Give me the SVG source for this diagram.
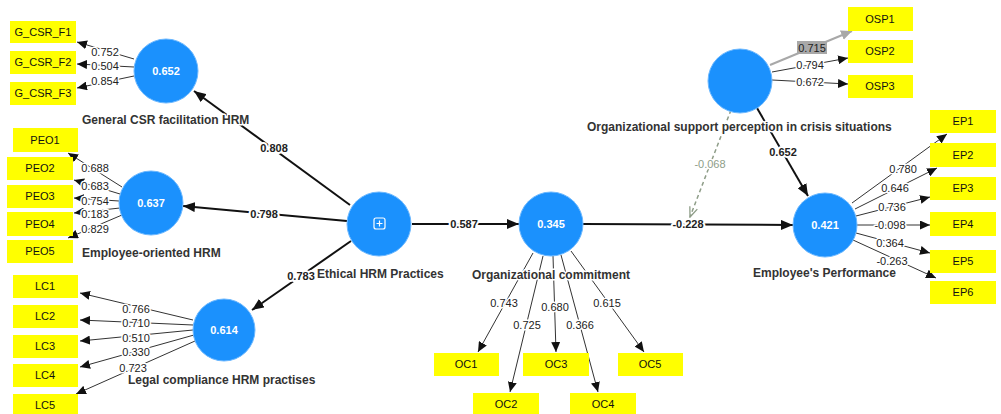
<svg xmlns="http://www.w3.org/2000/svg" width="1001" height="414" viewBox="0 0 1001 414">
<style>
.c{fill:#1b91fd;stroke:#6cb8ff;stroke-width:1}
.cv{font-family:"Liberation Sans",Arial,sans-serif;font-size:11px;font-weight:bold;fill:#fff;text-anchor:middle}
.b{fill:#ffff00}
.bt{font-family:"Liberation Sans",Arial,sans-serif;font-size:11px;fill:#111;text-anchor:middle}
.nl{font-family:"Liberation Sans",Arial,sans-serif;font-size:12px;font-weight:bold;fill:#333;stroke:#fff;stroke-width:3;paint-order:stroke;stroke-linejoin:round}
.p{stroke:#111;stroke-width:2;fill:none;marker-end:url(#ah)}
.o{stroke:#333;stroke-width:1;fill:none;marker-end:url(#as)}
.pl{font-family:"Liberation Sans",Arial,sans-serif;font-size:11px;font-weight:bold;fill:#222;text-anchor:middle;stroke:#fff;stroke-width:4;paint-order:stroke;stroke-linejoin:round}
.ol{font-family:"Liberation Sans",Arial,sans-serif;font-size:11px;fill:#222;text-anchor:middle;stroke:#fff;stroke-width:3;paint-order:stroke;stroke-linejoin:round}
</style>
<defs>
<marker id="ah" markerUnits="userSpaceOnUse" markerWidth="13" markerHeight="10" refX="12" refY="5" orient="auto"><path d="M0,0 L12,5 L0,10 z" fill="#111"/></marker>
<marker id="as" markerUnits="userSpaceOnUse" markerWidth="11" markerHeight="9" refX="10" refY="4.5" orient="auto"><path d="M0,0 L10,4.5 L0,9 z" fill="#111"/></marker>
<marker id="ag" markerUnits="userSpaceOnUse" markerWidth="12" markerHeight="10" refX="11" refY="5" orient="auto"><path d="M0,0 L11,5 L0,10 z" fill="#a8a8a8"/></marker>
<marker id="ad" markerUnits="userSpaceOnUse" markerWidth="12" markerHeight="10" refX="11" refY="5" orient="auto"><path d="M1,1 L11,5 L1,9" fill="none" stroke="#8e9d88" stroke-width="1.3"/></marker>
</defs>
<rect width="1001" height="414" fill="#fff"/>

<g id="connectors">
<line class="p" x1="350" y1="205" x2="194" y2="91"/>
<line class="p" x1="347" y1="221" x2="183" y2="206"/>
<line class="p" x1="351" y1="241" x2="252" y2="310"/>
<line class="p" x1="412" y1="224" x2="519" y2="224"/>
<line class="p" x1="583" y1="224" x2="793" y2="225"/>
<line class="p" x1="757" y1="108" x2="808" y2="196"/>
<line x1="731" y1="110" x2="690" y2="217" stroke="#8e9d88" stroke-width="1.5" stroke-dasharray="4,3" marker-end="url(#ad)"/>
<text class="pl" x="274" y="152">0.808</text>
<text class="pl" x="264" y="218">0.798</text>
<text class="pl" x="464" y="228">0.587</text>
<text class="pl" x="688" y="228">-0.228</text>
<text class="pl" x="783" y="156">0.652</text>
<text x="710" y="168" font-family="Liberation Sans,Arial,sans-serif" font-size="11" fill="#8e9d88" text-anchor="middle" stroke="#fff" stroke-width="3" paint-order="stroke">-0.068</text>

<line class="o" x1="134" y1="59" x2="77" y2="42"/>
<line class="o" x1="134" y1="67" x2="77" y2="64"/>
<line class="o" x1="134" y1="76" x2="77" y2="88"/>
<text class="ol" x="105" y="56">0.752</text>
<text class="ol" x="105" y="70">0.504</text>
<text class="ol" x="105" y="85">0.854</text>

<line class="o" x1="122" y1="187" x2="68" y2="153"/>
<line class="o" x1="120" y1="194" x2="74" y2="180"/>
<line class="o" x1="119" y1="201" x2="74" y2="198"/>
<line class="o" x1="120" y1="208" x2="74" y2="213"/>
<line class="o" x1="122" y1="215" x2="68" y2="238"/>
<text class="ol" x="95" y="172">0.688</text>
<text class="ol" x="95" y="190">0.683</text>
<text class="ol" x="95" y="205">0.754</text>
<text class="ol" x="95" y="218">0.183</text>
<text class="ol" x="95" y="233">0.829</text>

<line class="o" x1="193" y1="320" x2="80" y2="293"/>
<line class="o" x1="193" y1="325" x2="80" y2="320"/>
<line class="o" x1="193" y1="330" x2="80" y2="341"/>
<line class="o" x1="194" y1="335" x2="80" y2="367"/>
<line class="o" x1="195" y1="341" x2="76" y2="394"/>
<text class="ol" x="136" y="313">0.766</text>
<text class="ol" x="136" y="327">0.710</text>
<text class="ol" x="136" y="342">0.510</text>
<text class="ol" x="136" y="356">0.330</text>
<text class="ol" x="133" y="372">0.723</text>

<line class="o" x1="533" y1="253" x2="478" y2="352"/>
<line class="o" x1="543" y1="256" x2="510" y2="392"/>
<line class="o" x1="553" y1="256" x2="556" y2="352"/>
<line class="o" x1="561" y1="255" x2="598" y2="392"/>
<line class="o" x1="571" y1="251" x2="644" y2="352"/>
<text class="ol" x="504" y="307">0.743</text>
<text class="ol" x="527" y="329">0.725</text>
<text class="ol" x="555" y="311">0.680</text>
<text class="ol" x="580" y="329">0.366</text>
<text class="ol" x="607" y="307">0.615</text>

<line x1="770" y1="65" x2="852" y2="31" stroke="#a8a8a8" stroke-width="2" marker-end="url(#ag)"/>
<line class="o" x1="772" y1="72" x2="848" y2="58"/>
<line class="o" x1="772" y1="80" x2="848" y2="84"/>
<rect x="797" y="41" width="30" height="13" fill="#a8a8a8"/>
<text x="812" y="51.5" font-family="Liberation Sans,Arial,sans-serif" font-size="11" fill="#222" text-anchor="middle">0.715</text>
<text class="ol" x="810" y="69">0.794</text>
<text class="ol" x="810" y="86">0.672</text>

<line class="o" x1="852" y1="203" x2="947" y2="134"/>
<line class="o" x1="855" y1="209" x2="937" y2="168"/>
<line class="o" x1="856" y1="216" x2="930" y2="197"/>
<line class="o" x1="857" y1="225" x2="930" y2="225"/>
<line class="o" x1="856" y1="233" x2="930" y2="253"/>
<line class="o" x1="853" y1="240" x2="936" y2="278"/>
<text class="ol" x="903" y="173">0.780</text>
<text class="ol" x="895" y="192">0.646</text>
<text class="ol" x="892" y="211">0.736</text>
<text class="ol" x="890" y="229">-0.098</text>
<text class="ol" x="890" y="247">0.364</text>
<text class="ol" x="892" y="265">-0.263</text>
</g>

<g id="node-gcsr"><circle class="c" cx="166" cy="71" r="32"/><text class="cv" x="166" y="75">0.652</text><text class="nl" x="82" y="124">General CSR facilitation HRM</text></g>
<g id="node-peo"><circle class="c" cx="151" cy="203" r="32"/><text class="cv" x="151" y="207">0.637</text><text class="nl" x="82" y="257">Employee-oriented HRM</text></g>
<g id="node-lc"><circle class="c" cx="224" cy="330" r="31"/><text class="cv" x="224" y="334">0.614</text><text class="nl" x="128" y="384">Legal compliance HRM practises</text></g>
<g id="node-ethical"><circle class="c" cx="379" cy="224" r="32"/><rect x="374" y="218" width="11" height="11" rx="2" fill="none" stroke="#fff" stroke-width="1.2"/><path d="M379.5,220.5 V226.5 M376.5,223.5 H382.5" stroke="#fff" stroke-width="1.2"/><text class="nl" x="317" y="278">Ethical HRM Practices</text></g>
<text class="pl" x="301" y="280">0.783</text>
<g id="node-oc"><circle class="c" cx="551" cy="224" r="32"/><text class="cv" x="551" y="228" font-weight="normal">0.345</text><text class="nl" x="472" y="279">Organizational commitment</text></g>
<g id="node-osp"><circle class="c" cx="740" cy="81" r="32"/><text class="nl" x="587" y="131">Organizational support perception in crisis situations</text></g>
<g id="node-ep"><circle class="c" cx="825" cy="225" r="32"/><text class="cv" x="825" y="229">0.421</text><text class="nl" x="753" y="277">Employee's Performance</text></g>

<g id="ind-gcsr1"><rect class="b" x="10" y="21" width="66" height="22"/><text class="bt" x="43" y="36">G_CSR_F1</text></g>
<g id="ind-gcsr2"><rect class="b" x="10" y="51" width="66" height="23"/><text class="bt" x="43" y="66">G_CSR_F2</text></g>
<g id="ind-gcsr3"><rect class="b" x="10" y="82" width="66" height="23"/><text class="bt" x="43" y="97">G_CSR_F3</text></g>
<g id="ind-peo1"><rect class="b" x="13" y="128" width="65" height="24"/><text class="bt" x="45" y="144">PEO1</text></g>
<g id="ind-peo2"><rect class="b" x="7" y="157" width="66" height="23"/><text class="bt" x="40" y="172">PEO2</text></g>
<g id="ind-peo3"><rect class="b" x="7" y="185" width="66" height="23"/><text class="bt" x="40" y="200">PEO3</text></g>
<g id="ind-peo4"><rect class="b" x="7" y="212" width="66" height="24"/><text class="bt" x="40" y="228">PEO4</text></g>
<g id="ind-peo5"><rect class="b" x="7" y="240" width="66" height="23"/><text class="bt" x="40" y="255">PEO5</text></g>
<g id="ind-lc1"><rect class="b" x="13" y="275" width="65" height="23"/><text class="bt" x="45" y="290">LC1</text></g>
<g id="ind-lc2"><rect class="b" x="13" y="305" width="65" height="23"/><text class="bt" x="45" y="320">LC2</text></g>
<g id="ind-lc3"><rect class="b" x="13" y="335" width="65" height="23"/><text class="bt" x="45" y="350">LC3</text></g>
<g id="ind-lc4"><rect class="b" x="13" y="364" width="65" height="23"/><text class="bt" x="45" y="379">LC4</text></g>
<g id="ind-lc5"><rect class="b" x="13" y="394" width="65" height="23"/><text class="bt" x="45" y="409">LC5</text></g>
<g id="ind-oc1"><rect class="b" x="434" y="353" width="65" height="23"/><text class="bt" x="466" y="368">OC1</text></g>
<g id="ind-oc2"><rect class="b" x="473" y="393" width="66" height="23"/><text class="bt" x="506" y="408">OC2</text></g>
<g id="ind-oc3"><rect class="b" x="523" y="353" width="66" height="23"/><text class="bt" x="556" y="368">OC3</text></g>
<g id="ind-oc4"><rect class="b" x="570" y="393" width="66" height="23"/><text class="bt" x="603" y="408">OC4</text></g>
<g id="ind-oc5"><rect class="b" x="618" y="353" width="65" height="23"/><text class="bt" x="650" y="368">OC5</text></g>
<g id="ind-osp1"><rect class="b" x="848" y="7" width="65" height="24"/><text class="bt" x="880" y="23">OSP1</text></g>
<g id="ind-osp2"><rect class="b" x="848" y="40" width="65" height="23"/><text class="bt" x="880" y="55">OSP2</text></g>
<g id="ind-osp3"><rect class="b" x="848" y="75" width="65" height="23"/><text class="bt" x="880" y="90">OSP3</text></g>
<g id="ind-ep1"><rect class="b" x="930" y="110" width="66" height="23"/><text class="bt" x="963" y="125">EP1</text></g>
<g id="ind-ep2"><rect class="b" x="930" y="143" width="66" height="24"/><text class="bt" x="963" y="159">EP2</text></g>
<g id="ind-ep3"><rect class="b" x="930" y="177" width="66" height="23"/><text class="bt" x="963" y="192">EP3</text></g>
<g id="ind-ep4"><rect class="b" x="930" y="212" width="66" height="24"/><text class="bt" x="963" y="228">EP4</text></g>
<g id="ind-ep5"><rect class="b" x="930" y="250" width="66" height="23"/><text class="bt" x="963" y="265">EP5</text></g>
<g id="ind-ep6"><rect class="b" x="930" y="281" width="66" height="23"/><text class="bt" x="963" y="296">EP6</text></g>
</svg>
